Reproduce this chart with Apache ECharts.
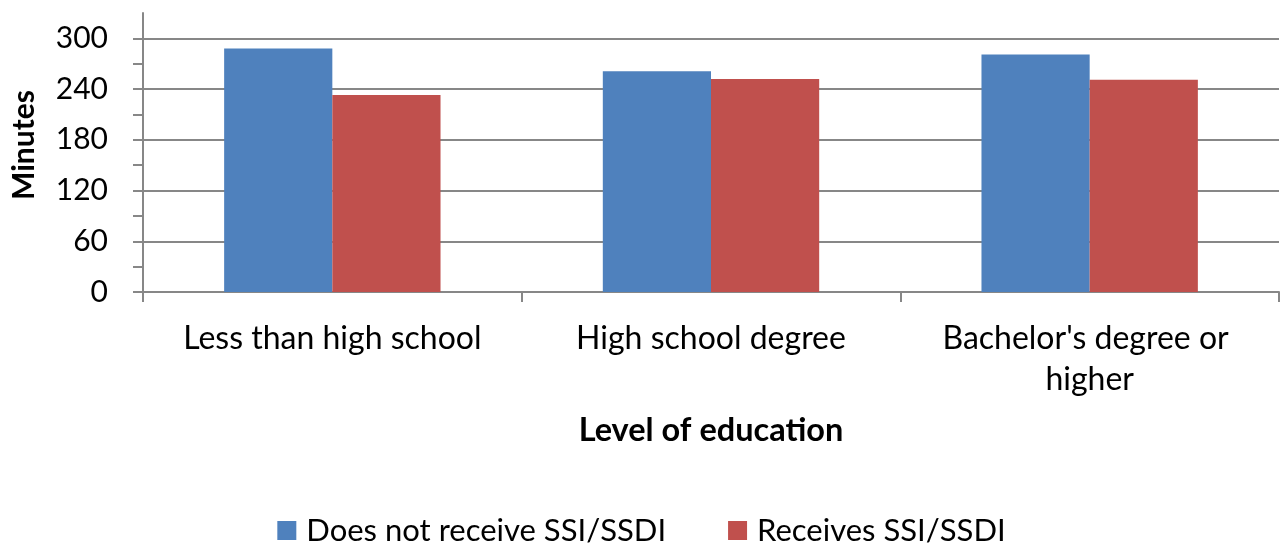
<!DOCTYPE html>
<html>
<head>
<meta charset="utf-8">
<title>Minutes by level of education</title>
<script src="https://cdn.jsdelivr.net/npm/echarts@6/dist/echarts.min.js"></script>
<style>
  html, body { margin: 0; padding: 0; background: #ffffff; }
  #chart { width: 1283px; height: 546px; }
</style>
</head>
<body>
<div id="chart"></div>
<script>
// Education levels on the category axis
const categories = ["Less than high school", "High school degree", "Bachelor's degree or higher"];

// Minutes, by SSI/SSDI status
const seriesNames = ["Does not receive SSI/SSDI", "Receives SSI/SSDI"];
const noSsi = [288, 261, 281];
const withSsi = [233, 252, 251];

// Value axis ticks
const yMin = 0;
const yMax = 330;
const yLabelStep = 60;
const yTickStep = 30;

const FONT = 'Lato';
const AXIS_GRAY = '#878787';

const chart = echarts.init(document.getElementById('chart'), null, { renderer: 'canvas' });

chart.setOption({
  backgroundColor: '#ffffff',
  animation: false,
  color: ['#4F81BD', '#C0504D'],
  grid: { left: 143, right: 4, top: 13, bottom: 254 },
  legend: {
    bottom: -5,
    left: 'center',
    itemWidth: 19,
    itemHeight: 19,
    itemGap: 62,
    icon: 'rect',
    textStyle: { fontFamily: FONT, fontSize: 31, color: '#000000', padding: [0, 0, 0, 5] },
    data: seriesNames
  },
  xAxis: {
    type: 'category',
    data: categories,
    name: 'Level of education',
    nameLocation: 'middle',
    nameGap: 122,
    nameTextStyle: { fontFamily: FONT, fontWeight: 'bold', fontSize: 32.5, color: '#000000' },
    axisLine: { lineStyle: { color: AXIS_GRAY, width: 2 } },
    axisTick: { show: true, alignWithLabel: false, length: 10, lineStyle: { color: AXIS_GRAY, width: 2 } },
    axisLabel: {
      fontFamily: FONT, fontSize: 32, color: '#000000',
      margin: 26, lineHeight: 41,
      width: 340, overflow: 'break', interval: 0
    },
    splitLine: { show: false }
  },
  yAxis: {
    type: 'value',
    min: yMin,
    max: yMax,
    interval: yTickStep,
    name: 'Minutes',
    nameLocation: 'middle',
    nameGap: 104,
    nameTextStyle: { fontFamily: FONT, fontWeight: 'bold', fontSize: 30, color: '#000000', padding: [0, 0, 0, 15] },
    axisLine: { show: true, lineStyle: { color: AXIS_GRAY, width: 2 } },
    axisTick: { show: true, length: 10, lineStyle: { color: AXIS_GRAY, width: 2 } },
    axisLabel: {
      fontFamily: FONT, fontSize: 30, color: '#000000', margin: 35,
      showMaxLabel: false,
      formatter: v => (v % yLabelStep === 0 && v < yMax) ? String(v) : ''
    },
    splitLine: {
      show: true,
      showMaxLine: false,
      lineStyle: { color: [AXIS_GRAY, 'rgba(0,0,0,0)'], width: 2 }
    }
  },
  series: [
    {
      name: seriesNames[0],
      type: 'bar',
      data: noSsi,
      barGap: '0%',
      barCategoryGap: '42.857%'
    },
    {
      name: seriesNames[1],
      type: 'bar',
      data: withSsi,
      barGap: '0%',
      barCategoryGap: '42.857%'
    }
  ]
});
</script>
</body>
</html>
